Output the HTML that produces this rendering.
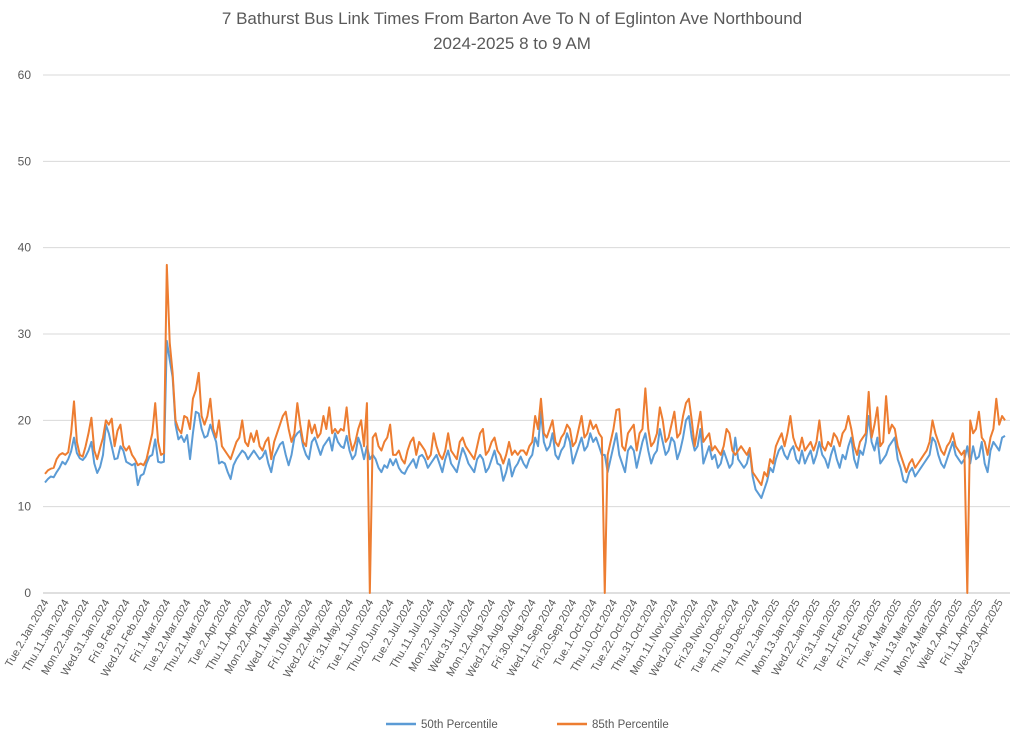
<!DOCTYPE html>
<html><head><meta charset="utf-8"><style>
body{margin:0;background:#fff;font-family:"Liberation Sans",sans-serif}
svg{display:block}
</style></head><body>
<svg id="chart" width="1024" height="741" xmlns="http://www.w3.org/2000/svg">
<text x="512" y="24" text-anchor="middle" font-size="17" fill="#595959">7 Bathurst Bus Link Times From Barton Ave To N of Eglinton Ave Northbound</text>
<text x="512" y="49" text-anchor="middle" font-size="17" fill="#595959">2024-2025 8 to 9 AM</text>
<g id="grid"></g>
<g id="yaxis"></g>
<g id="xaxis"></g>
<g id="series"></g>
<g>
<line x1="386" y1="724" x2="416" y2="724" stroke="#5b9bd5" stroke-width="2.5"/>
<text x="421" y="728" font-size="11.5" fill="#595959">50th Percentile</text>
<line x1="557" y1="724" x2="587" y2="724" stroke="#ed7d31" stroke-width="2.5"/>
<text x="592" y="728" font-size="11.5" fill="#595959">85th Percentile</text>
</g>
</svg>
<script>
const yTicks=[0,10,20,30,40,50,60];
const xLabels=["Tue.2.Jan.2024","Thu.11.Jan.2024","Mon.22.Jan.2024","Wed.31.Jan.2024","Fri.9.Feb.2024","Wed.21.Feb.2024","Fri.1.Mar.2024","Tue.12.Mar.2024","Thu.21.Mar.2024","Tue.2.Apr.2024","Thu.11.Apr.2024","Mon.22.Apr.2024","Wed.1.May.2024","Fri.10.May.2024","Wed.22.May.2024","Fri.31.May.2024","Tue.11.Jun.2024","Thu.20.Jun.2024","Tue.2.Jul.2024","Thu.11.Jul.2024","Mon.22.Jul.2024","Wed.31.Jul.2024","Mon.12.Aug.2024","Wed.21.Aug.2024","Fri.30.Aug.2024","Wed.11.Sep.2024","Fri.20.Sep.2024","Tue.1.Oct.2024","Thu.10.Oct.2024","Tue.22.Oct.2024","Thu.31.Oct.2024","Mon.11.Nov.2024","Wed.20.Nov.2024","Fri.29.Nov.2024","Tue.10.Dec.2024","Thu.19.Dec.2024","Thu.2.Jan.2025","Mon.13.Jan.2025","Wed.22.Jan.2025","Fri.31.Jan.2025","Tue.11.Feb.2025","Fri.21.Feb.2025","Tue.4.Mar.2025","Thu.13.Mar.2025","Mon.24.Mar.2025","Wed.2.Apr.2025","Fri.11.Apr.2025","Wed.23.Apr.2025"];
const p50=[12.8,13.2,13.5,13.4,14.0,14.5,15.2,14.9,15.5,16.4,18.0,16.2,15.6,15.4,15.8,16.5,17.5,15.0,13.9,14.6,16.0,19.5,18.5,17.0,15.5,15.6,17.0,16.5,15.2,15.0,14.8,15.0,12.5,13.6,13.8,15.0,15.8,16.0,17.8,15.2,15.1,15.2,
29.2,27.0,25.0,19.5,17.8,18.2,17.5,18.3,15.5,18.5,21.0,20.8,19.0,18.0,18.2,19.5,18.5,17.5,15.0,
15.2,15.0,14.0,13.2,14.8,15.5,16.0,16.5,16.2,15.5,16.0,16.5,16.0,15.5,15.8,16.5,15.0,14.0,15.8,16.5,17.2,17.5,16.0,14.8,16.0,18.0,18.5,18.8,17.0,16.0,15.5,17.5,18.0,17.0,16.0,17.0,17.5,18.0,16.5,18.5,17.5,17.0,16.8,18.2,16.5,15.5,16.0,18.0,17.0,15.5,17.0,
15.5,
16.0,15.5,14.5,14.0,14.8,14.5,15.5,14.8,15.5,14.5,14.0,13.8,14.5,15.0,15.5,14.5,15.8,16.0,15.5,14.5,15.0,15.5,16.0,15.0,14.0,15.5,16.5,15.0,14.5,14.0,15.5,16.8,16.0,15.0,14.5,14.0,15.5,16.0,15.5,14.0,14.5,15.5,16.5,15.0,14.8,13.0,14.0,15.5,13.5,14.5,15.0,15.8,15.0,14.5,15.5,16.0,18.0,17.0,21.0,17.5,16.5,17.0,18.5,16.0,15.5,16.5,17.0,18.5,17.5,15.0,16.0,17.0,18.0,16.5,17.0,18.5,17.5,18.0,17.0,16.0,
16.0,
14.0,15.5,17.0,18.5,16.0,15.0,14.0,16.5,17.0,16.5,14.5,16.0,17.5,18.5,16.5,15.0,16.0,16.5,19.0,17.5,16.0,16.5,18.0,17.5,15.5,16.5,18.0,20.0,20.5,18.0,16.5,17.0,19.0,15.0,16.0,17.0,15.5,16.0,14.5,15.0,16.5,15.5,14.5,15.0,18.0,15.5,15.0,14.5,15.0,16.5,13.5,12.0,11.5,11.0,12.0,13.0,14.5,14.0,15.5,16.5,17.0,16.0,15.5,16.5,17.0,15.5,15.0,16.5,15.0,15.8,16.5,15.0,16.0,17.5,16.0,15.5,14.5,
16.0,17.0,15.5,14.5,16.0,15.5,17.0,18.0,15.5,14.5,16.5,16.0,17.5,20.5,17.5,16.5,18.0,15.0,15.5,16.0,17.0,17.5,18.0,15.5,14.5,13.0,12.8,14.0,14.5,13.5,14.0,14.5,15.0,15.5,16.0,18.0,17.5,16.0,15.0,14.5,15.5,16.5,17.5,16.0,15.5,15.0,15.5,
17.0,
15.0,17.0,15.5,15.8,17.5,15.0,14.0,16.5,17.5,17.0,16.5,18.0,18.2];
const p85=[13.8,14.2,14.4,14.5,15.5,16.0,16.2,16.0,16.3,18.5,22.2,17.5,16.0,15.8,17.0,18.5,20.3,16.5,15.5,16.8,18.0,20.0,19.5,20.2,17.0,18.8,19.5,17.0,16.5,17.0,16.0,15.5,14.8,15.0,14.8,15.5,17.0,18.5,22.0,17.5,16.0,16.2,
38.0,29.0,25.5,20.0,19.0,18.5,20.5,20.3,19.0,22.5,23.5,25.5,20.5,19.5,20.5,22.5,19.0,18.0,20.0,
17.0,16.5,16.0,15.5,16.5,17.5,18.0,20.0,17.5,17.0,18.5,17.5,18.8,17.0,16.5,17.5,18.0,15.5,17.5,18.5,19.5,20.5,21.0,19.0,17.5,18.5,22.0,19.5,17.5,17.0,20.0,18.5,19.5,18.0,18.5,20.5,19.0,21.5,18.5,19.0,18.5,19.0,18.8,21.5,18.0,16.5,17.5,19.0,20.0,17.0,22.0,
0,
18.0,18.5,17.0,16.5,17.5,18.0,19.5,16.0,16.0,16.5,15.5,15.0,16.5,17.5,18.0,16.0,17.5,17.0,16.5,15.5,16.0,18.5,17.0,16.0,15.5,16.5,18.5,16.5,16.0,15.5,17.5,18.0,17.0,16.5,16.0,15.5,17.0,18.5,19.0,16.0,16.5,17.5,18.0,16.5,16.0,15.0,16.0,17.5,16.0,16.5,16.0,16.5,16.5,16.0,17.0,17.5,20.5,19.0,22.5,18.5,18.0,19.0,20.0,17.5,17.0,18.0,18.5,19.5,19.0,17.0,17.5,19.0,20.5,18.0,18.5,20.0,19.0,19.5,18.5,18.0,
0,
16.0,17.5,19.0,21.2,21.3,17.0,16.5,18.5,19.0,19.5,16.5,18.5,19.0,23.7,19.0,17.0,17.5,18.5,21.5,20.0,17.5,18.0,19.5,21.0,18.0,18.5,20.5,22.0,22.5,20.0,17.0,19.0,21.0,17.5,18.0,18.5,16.5,17.0,16.5,16.0,17.0,19.0,18.5,16.5,16.0,16.5,17.0,16.5,16.0,16.8,14.0,13.5,13.0,12.5,14.0,13.5,15.5,15.0,17.0,17.8,18.5,17.0,18.5,20.5,18.0,17.0,16.5,18.0,16.5,17.0,17.5,16.5,17.5,20.0,17.0,16.5,17.5,
17.0,18.5,18.0,17.0,18.5,19.0,20.5,19.0,17.0,16.0,17.5,18.0,18.5,23.3,18.0,19.5,21.5,17.0,17.5,22.8,18.5,19.5,19.0,17.0,16.0,15.0,14.0,15.0,15.5,14.5,15.0,15.5,16.0,16.5,17.5,20.0,18.5,17.5,16.5,16.0,17.0,17.5,18.5,17.0,16.5,16.0,16.5,
0,
20.0,18.5,19.0,21.0,18.0,17.5,16.0,18.0,19.0,22.5,19.5,20.5,20.0];

const NS="http://www.w3.org/2000/svg";
const X0=45,X1=1005,Y0=593,Y60=75;
const N=Math.max(p50.length,p85.length);
function xs(i){return X0+i*(X1-X0)/(N-1);}
function ys(v){return Y0-(v/60)*(Y0-Y60);}
function mk(tag,attrs,parent){const e=document.createElementNS(NS,tag);for(const k in attrs)e.setAttribute(k,attrs[k]);parent.appendChild(e);return e;}
const grid=document.getElementById('grid'),ya=document.getElementById('yaxis'),xa=document.getElementById('xaxis'),ser=document.getElementById('series');
yTicks.forEach(t=>{
  const l=mk('line',{x1:43,x2:1010,y1:ys(t),y2:ys(t),stroke:t===0?'#bfbfbf':'#d9d9d9','stroke-width':1},grid);
  
  
  const tx=mk('text',{x:31,y:ys(t)+4,'text-anchor':'end','font-size':12,fill:'#595959'},ya);
  tx.textContent=t;
  
  
});
xLabels.forEach((s,k)=>{
  const x=xs(k*7)+4,y=602;
  const tx=mk('text',{x:x,y:y,'text-anchor':'end','font-size':11,fill:'#595959',transform:`rotate(-60 ${x} ${y})`},xa);
  tx.textContent=s;
  
  
});
function line(arr,color,name){
  const d=arr.map((v,i)=>(i?'L':'M')+xs(i).toFixed(2)+' '+ys(v).toFixed(2)).join(' ');
  const p=mk('path',{d:d,fill:'none',stroke:color,'stroke-width':2,'stroke-linejoin':'round'},ser);
  
  
}
line(p50,'#5b9bd5','series-50th-percentile');
line(p85,'#ed7d31','series-85th-percentile');
</script>
</body></html>
